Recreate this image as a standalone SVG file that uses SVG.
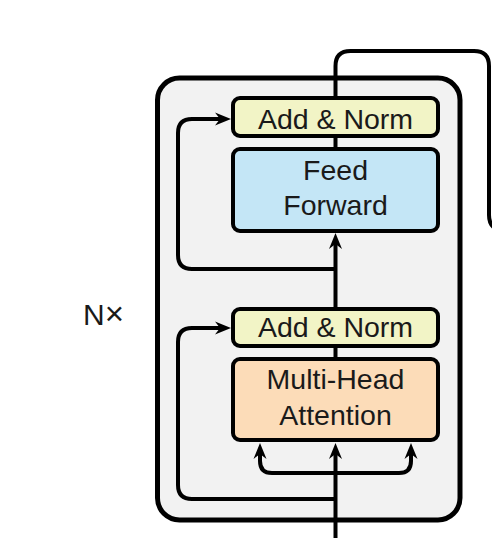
<svg xmlns="http://www.w3.org/2000/svg" width="492" height="538" viewBox="0 0 492 538">
<defs>
<style>
.box{stroke:#000;stroke-width:4}
.an{fill:#f2f4c6}
.ff{fill:#c4e6f6}
.mh{fill:#fcdcb8}
.t{font-family:"Liberation Sans",Arial,sans-serif;font-size:28.5px;fill:#1a1a1a;text-anchor:middle}
.c{fill:none;stroke:#000;stroke-width:4;stroke-linejoin:round}
</style>
<marker id="ah" markerUnits="userSpaceOnUse" markerWidth="18" markerHeight="16" viewBox="0 0 18 16" refX="10" refY="8" orient="auto">
<path d="M1,1.5 L17,8 L1,14.5 L6,8 Z" fill="#000"/>
</marker>
</defs>
<rect width="492" height="538" fill="#fff"/>
<g id="block">
<rect x="157.5" y="78" width="302.5" height="442" rx="22" fill="#f2f2f2" stroke="#000" stroke-width="5"/>
</g>
<g id="connectors">
<path class="c" d="M335.5,538 V450" marker-end="url(#ah)"/>
<path class="c" d="M335.5,473 H272 Q260,473 260,461 V450" marker-end="url(#ah)"/>
<path class="c" d="M335.5,473 H399 Q411,473 411,461 V450" marker-end="url(#ah)"/>
<path class="c" d="M335.5,499 H192 Q178,499 178,485 V342 Q178,328 192,328 H224" marker-end="url(#ah)"/>
<path class="c" d="M335.5,359 V345"/>
<path class="c" d="M335.5,309 V240" marker-end="url(#ah)"/>
<path class="c" d="M335.5,269 H192 Q178,269 178,255 V133 Q178,119 192,119 H224" marker-end="url(#ah)"/>
<path class="c" d="M335.5,149 V136"/>
<path class="c" d="M335.5,98 V66 Q335.5,51 350.5,51 H474 Q489,51 489,66 V215 Q489,230 504,230"/>
</g>
<g id="add-norm-1">
<rect class="box an" x="233" y="98" width="205" height="38" rx="7"/>
<text class="t" x="335.5" y="128.5">Add &amp; Norm</text>
</g>
<g id="feed-forward">
<rect class="box ff" x="233" y="149" width="205" height="82" rx="7"/>
<text class="t" x="335.5" y="179.5">Feed</text>
<text class="t" x="335.5" y="215">Forward</text>
</g>
<g id="add-norm-2">
<rect class="box an" x="233" y="309" width="205" height="37" rx="7"/>
<text class="t" x="335.5" y="337">Add &amp; Norm</text>
</g>
<g id="multi-head-attention">
<rect class="box mh" x="233" y="359" width="205" height="81" rx="7"/>
<text class="t" x="335.5" y="389">Multi-Head</text>
<text class="t" x="335.5" y="425">Attention</text>
</g>
<g id="nx-label">
<text x="83" y="325" style="font-family:'Liberation Sans',Arial,sans-serif;font-size:30px;fill:#1a1a1a">N<tspan style="font-size:33px">×</tspan></text>
</g>
</svg>
